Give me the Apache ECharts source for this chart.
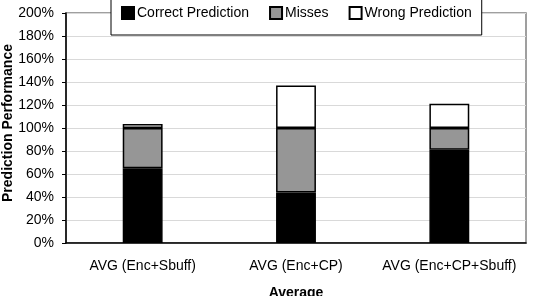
<!DOCTYPE html>
<html>
<head>
<meta charset="utf-8">
<script src="https://cdn.jsdelivr.net/npm/echarts@6/dist/echarts.min.js"></script>
<style>html,body{margin:0;padding:0;background:#fff;}#c{width:538px;height:296px;}</style>
</head>
<body>
<div id="c"></div>
<script>
var categories = ['AVG (Enc+Sbuff)', 'AVG (Enc+CP)', 'AVG (Enc+CP+Sbuff)'];
var correctPrediction = [65, 44, 81];
var misses = [35, 56, 19];
var wrongPrediction = [3.5, 37, 21];
var yTicks = [0, 20, 40, 60, 80, 100, 120, 140, 160, 180, 200];

var font = 'Liberation Sans, Arial, sans-serif';
var chart = echarts.init(document.getElementById('c'));
function mk(name, data, color) {
  return {
    name: name, type: 'bar', stack: 'a', data: data, barWidth: '26%',
    itemStyle: { color: color, borderColor: '#000', borderWidth: 1.5 }
  };
}
chart.setOption({
  animation: false,
  textStyle: { fontFamily: font },
  grid: { left: 66, right: 12, top: 13, bottom: 53, show: true, borderColor: '#808080', borderWidth: 1.5,
          containLabel: false, outerBoundsMode: 'none' },
  legend: {
    top: -9, left: 111,
    padding: [15, 10, 15, 10],
    itemGap: 20, itemWidth: 12, itemHeight: 12,
    backgroundColor: '#fff', borderColor: '#000', borderWidth: 1,
    textStyle: { fontSize: 14, color: '#000', fontFamily: font, padding: [0, 0, 0, -2] },
    data: [
      { name: 'Correct Prediction', icon: 'rect' },
      { name: 'Misses', icon: 'rect' },
      { name: 'Wrong Prediction', icon: 'rect' }
    ]
  },
  xAxis: {
    type: 'category', data: categories,
    name: 'Average', nameLocation: 'middle', nameGap: 43, nameMoveOverlap: false,
    nameTextStyle: { fontSize: 14, fontWeight: 'bold', color: '#000', verticalAlign: 'top' },
    axisLine: { lineStyle: { color: '#000', width: 1.5 } },
    axisTick: { length: 4, lineStyle: { color: '#000' } },
    axisLabel: { fontSize: 14, color: '#000', margin: 16, interval: 0, hideOverlap: false },
    splitLine: { show: false }
  },
  yAxis: {
    type: 'value', min: yTicks[0], max: yTicks[yTicks.length - 1], interval: 20,
    name: 'Prediction Performance', nameLocation: 'middle', nameGap: 51, nameMoveOverlap: false,
    nameTextStyle: { fontSize: 14, fontWeight: 'bold', color: '#000', padding: [0, 0, 0, 10] },
    axisLine: { show: true, lineStyle: { color: '#000', width: 1.5 } },
    axisTick: { show: true, length: 4, lineStyle: { color: '#000' } },
    axisLabel: { fontSize: 14, color: '#000', margin: 12, formatter: '{value}%' },
    splitLine: { lineStyle: { color: '#d9d9d9' } }
  },
  series: [
    mk('Correct Prediction', correctPrediction, '#000'),
    mk('Misses', misses, '#969696'),
    mk('Wrong Prediction', wrongPrediction, '#fff')
  ]
});
</script>
</body>
</html>
